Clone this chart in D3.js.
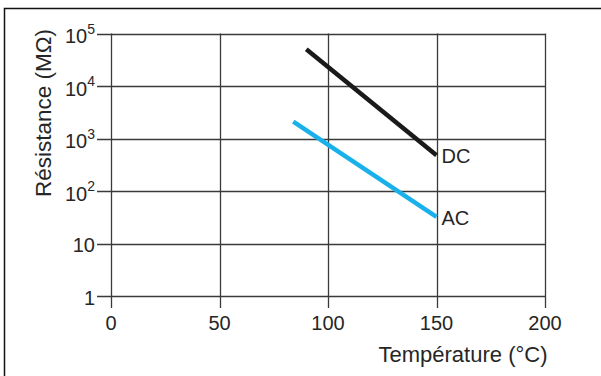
<!DOCTYPE html>
<html lang="fr">
<head>
    <meta charset="UTF-8">
    <title>Résistance vs température</title>
    <script src="https://d3js.org/d3.v7.min.js"></script>
    <style>
        body {
            margin: 0;
            padding: 0;
            background: white;
        }
        text {
            font-family: "Liberation Sans", Arial, sans-serif;
            fill: #262626;
        }
    </style>
</head>
<body>
    <div id="chart"></div>
    <script>
        // data
        const seriesNames = ['DC', 'AC'];
        const dcTemp = [90, 150];
        const dcRes = [50000, 480];
        const acTemp = [84, 150];
        const acRes = [2100, 32];
        const xTicks = [0, 50, 100, 150, 200];
        const yTicks = [1, 10, 100, 1000, 10000, 100000];
        const seriesColors = ['#1a1a1a', '#1ab0ea'];

        const width = 601;
        const height = 376;
        const margin = { left: 111, right: 56, top: 33.5, bottom: 80 };

        const svg = d3.select('#chart')
            .append('svg')
            .attr('width', width)
            .attr('height', height);

        // outer frame (top and left lines only)
        svg.append('path')
            .attr('d', `M4.5,${height} V8.5 H${width}`)
            .attr('fill', 'none')
            .attr('stroke', '#111')
            .attr('stroke-width', 1.5);

        const x = d3.scaleLinear()
            .domain([0, 200])
            .range([margin.left, width - margin.right]);

        const y = d3.scaleLog()
            .domain([1, 100000])
            .range([height - margin.bottom, margin.top]);

        // horizontal grid lines, extending left as ticks
        svg.append('g')
            .selectAll('line')
            .data(yTicks)
            .join('line')
            .attr('x1', margin.left - 14)
            .attr('x2', x(200))
            .attr('y1', d => Math.round(y(d)) + 0.5)
            .attr('y2', d => Math.round(y(d)) + 0.5)
            .attr('stroke', '#3a3a3a')
            .attr('stroke-width', 1.3);

        // vertical grid lines, extending down as ticks
        svg.append('g')
            .selectAll('line')
            .data(xTicks)
            .join('line')
            .attr('x1', d => Math.round(x(d)) + 0.5)
            .attr('x2', d => Math.round(x(d)) + 0.5)
            .attr('y1', y(100000))
            .attr('y2', y(1) + 12)
            .attr('stroke', '#3a3a3a')
            .attr('stroke-width', 1.3);

        // y tick labels
        const yl = svg.append('g')
            .selectAll('text')
            .data(yTicks)
            .join('text')
            .attr('x', margin.left - 16)
            .attr('y', d => y(d) + (d >= 100 ? 9.5 : 8.5))
            .attr('text-anchor', 'end')
            .attr('font-size', 20);
        yl.each(function(d) {
            const t = d3.select(this);
            const e = Math.round(Math.log10(d));
            if (e < 2) {
                t.text(d);
            } else {
                t.append('tspan').text('10');
                t.append('tspan')
                    .attr('dy', -9.5)
                    .attr('font-size', 14)
                    .text(e);
            }
        });

        // x tick labels
        svg.append('g')
            .selectAll('text')
            .data(xTicks)
            .join('text')
            .attr('x', d => x(d))
            .attr('y', y(1) + 34)
            .attr('text-anchor', 'middle')
            .attr('font-size', 20)
            .text(d => d);

        // axis titles
        svg.append('text')
            .attr('x', 463)
            .attr('y', 362)
            .attr('text-anchor', 'middle')
            .attr('font-size', 22)
            .text('Température (°C)');

        svg.append('text')
            .attr('transform', 'translate(51,113) rotate(-90)')
            .attr('text-anchor', 'middle')
            .attr('font-size', 22.5)
            .text('Résistance (MΩ)');

        // series
        const series = [
            { name: seriesNames[0], pts: dcTemp.map((t, i) => [t, dcRes[i]]), color: seriesColors[0] },
            { name: seriesNames[1], pts: acTemp.map((t, i) => [t, acRes[i]]), color: seriesColors[1] }
        ];

        const line = d3.line()
            .x(d => x(d[0]))
            .y(d => y(d[1]));

        svg.append('g')
            .selectAll('path')
            .data(series)
            .join('path')
            .attr('d', d => line(d.pts))
            .attr('fill', 'none')
            .attr('stroke', d => d.color)
            .attr('stroke-width', 4.5);

        svg.append('g')
            .selectAll('text')
            .data(series)
            .join('text')
            .attr('x', d => x(d.pts[d.pts.length - 1][0]) + 5)
            .attr('y', d => y(d.pts[d.pts.length - 1][1]) + 8)
            .attr('font-size', 20)
            .text(d => d.name);
    </script>
</body>
</html>
